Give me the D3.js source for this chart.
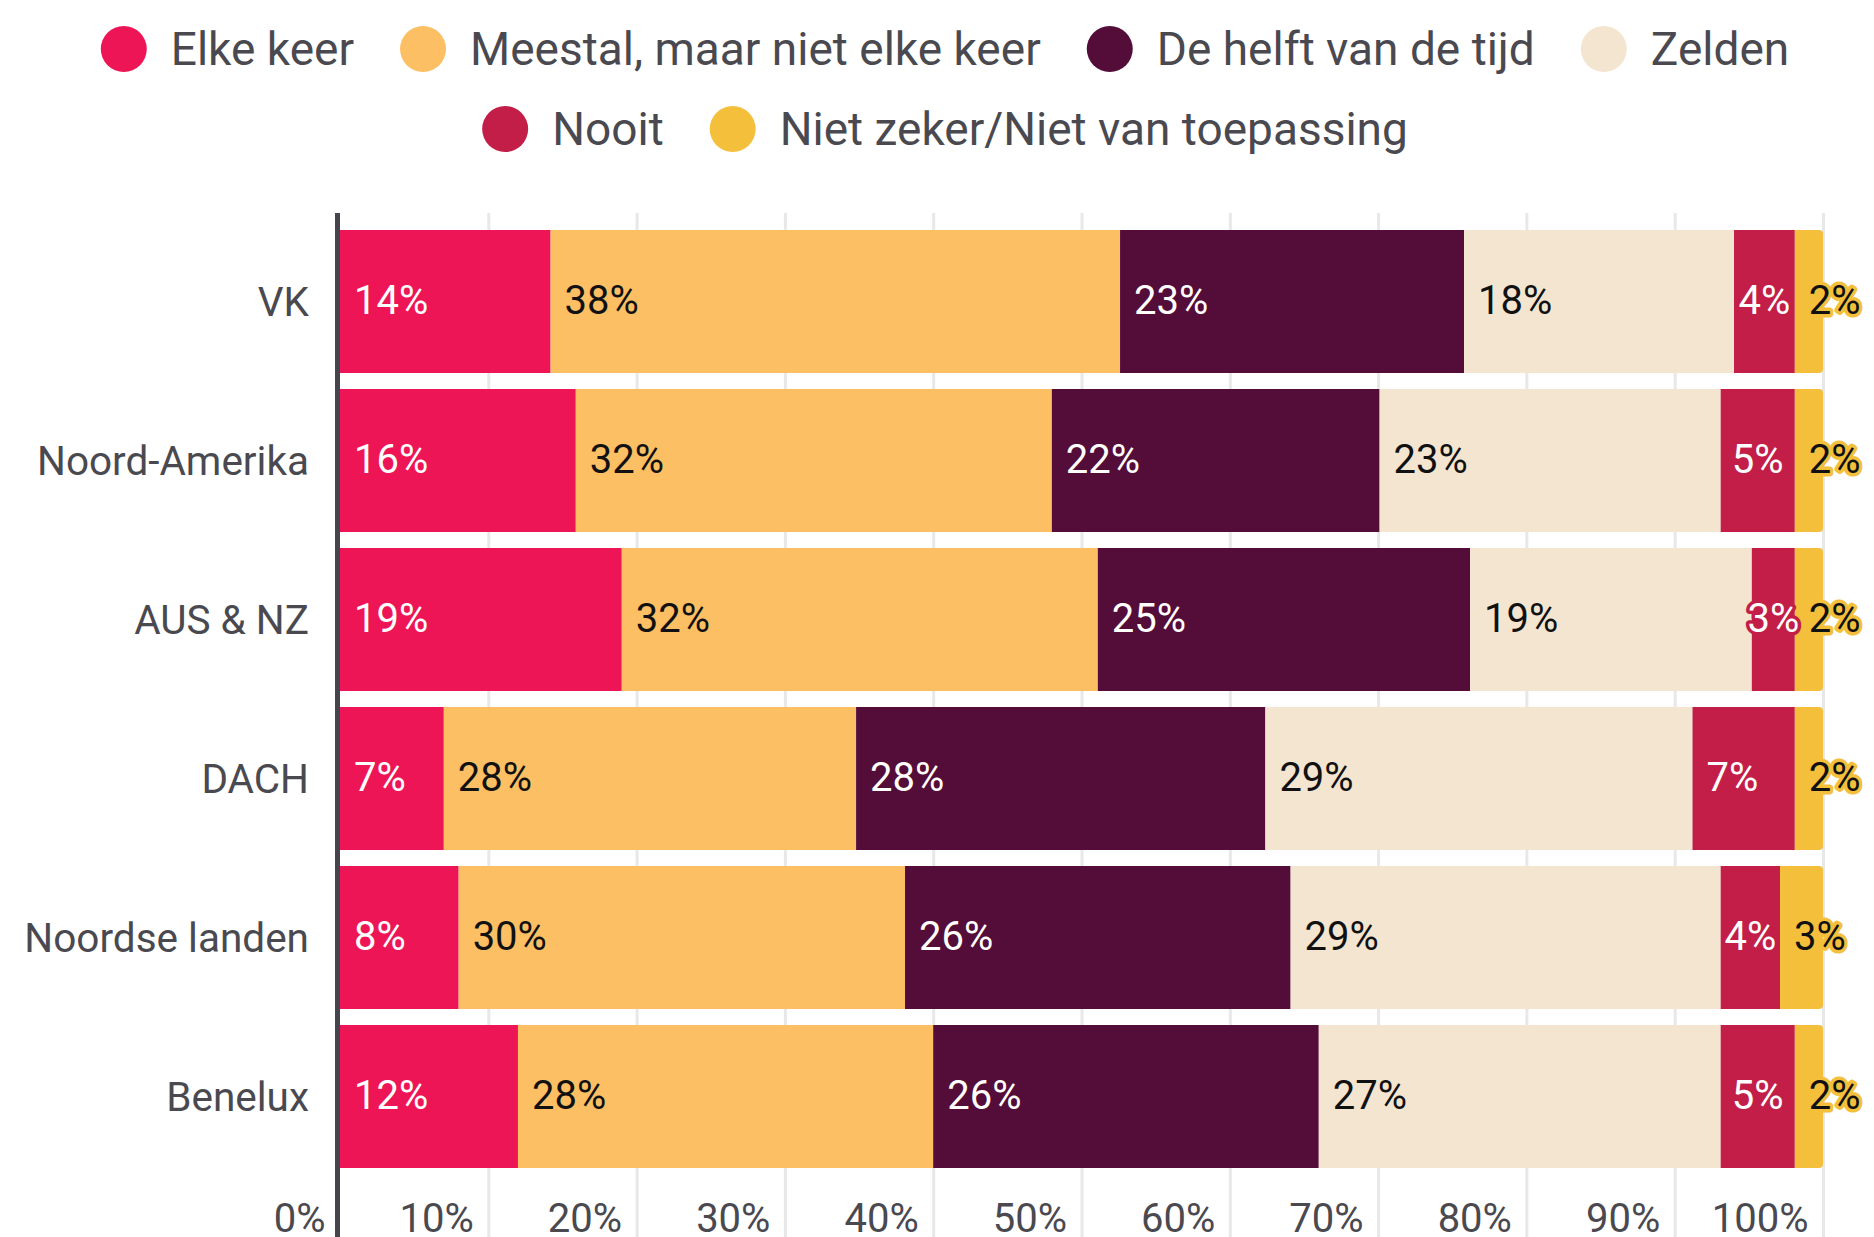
<html>
<head>
<meta charset="utf-8">
<script src="https://cdn.jsdelivr.net/npm/d3@7"></script>
<style>
    body { margin: 0; background: #fff; }
    svg text { font-family: Roboto, "Noto Sans", sans-serif; }
</style>
</head>
<body>
<svg id="chart" width="1874" height="1237"></svg>
<script>
    // categories and series (percentages)
    const categories = ["VK", "Noord-Amerika", "AUS & NZ", "DACH", "Noordse landen", "Benelux"];
    const seriesNames = ["Elke keer", "Meestal, maar niet elke keer", "De helft van de tijd", "Zelden", "Nooit", "Niet zeker/Niet van toepassing"];
    const elkeKeer = [14.2, 15.9, 19.0, 7.0, 8.0, 12.0];
    const meestal = [38.4, 32.1, 32.1, 27.8, 30.1, 28.0];
    const helft = [23.2, 22.1, 25.1, 27.6, 26.0, 26.0];
    const zelden = [18.2, 23.0, 19.0, 28.8, 29.0, 27.1];
    const nooit = [4.1, 5.0, 2.9, 6.9, 4.0, 5.0];
    const nietZeker = [1.9, 1.9, 1.9, 1.9, 2.9, 1.9];
    const tickValues = [0, 10, 20, 30, 40, 50, 60, 70, 80, 90, 100];

    const colors = ["#ee1556", "#fcbf63", "#540c38", "#f4e5d0", "#c21e48", "#f4c03c"];
    const textColors = ["#fff", "#111", "#fff", "#111", "#fff", "#111"];

    const seriesValues = [elkeKeer, meestal, helft, zelden, nooit, nietZeker];
    const table = categories.map(function (c, i) {
        const row = { cat: c };
        seriesNames.forEach(function (s, j) { row[s] = seriesValues[j][i]; });
        return row;
    });

    const svg = d3.select('#chart');

    const x = d3.scaleLinear().domain([0, 100]).range([340, 1823]);
    const y = d3.scaleBand().domain(categories).range([230, 1168]).paddingInner(16 / 159).paddingOuter(0);

    // grid + tick labels
    const xAxis = svg.append('g')
        .attr('transform', 'translate(0,213)')
        .call(d3.axisBottom(x).tickValues(tickValues).tickFormat(d => d + '%').tickSize(1024));
    xAxis.select('.domain').remove();
    xAxis.selectAll('.tick line')
        .attr('stroke', '#e8e8e8')
        .attr('stroke-width', 3)
        .attr('opacity', d => d === 0 ? 0 : 1);
    xAxis.selectAll('.tick text')
        .attr('text-anchor', 'end')
        .attr('x', -15)
        .attr('y', 1019)
        .attr('dy', 0)
        .attr('fill', '#4a4950')
        .style('font-size', '40px');

    // stacked bars
    const stacked = d3.stack().keys(seriesNames)(table);
    const r = 4;

    function segPath(x0, x1, y0, h, last) {
        if (!last) return 'M' + x0 + ',' + y0 + 'H' + x1 + 'V' + (y0 + h) + 'H' + x0 + 'Z';
        return 'M' + x0 + ',' + y0 + 'H' + (x1 - r) + 'Q' + x1 + ',' + y0 + ' ' + x1 + ',' + (y0 + r)
            + 'V' + (y0 + h - r) + 'Q' + x1 + ',' + (y0 + h) + ' ' + (x1 - r) + ',' + (y0 + h)
            + 'H' + x0 + 'Z';
    }

    const layers = svg.append('g').selectAll('g')
        .data(stacked)
        .enter().append('g')
        .attr('fill', (d, i) => colors[i]);

    layers.selectAll('path')
        .data((d, i) => d.map(p => ({ p: p, i: i })))
        .enter().append('path')
        .attr('d', d => segPath(x(d.p[0]), x(d.p[1]), y(d.p.data.cat), y.bandwidth(), d.i === seriesNames.length - 1));

    // value labels
    const labelG = svg.append('g');
    stacked.forEach(function (layer, i) {
        layer.forEach(function (p) {
            const x0 = x(p[0]), x1 = x(p[1]);
            const t = labelG.append('text')
                .attr('y', y(p.data.cat) + y.bandwidth() / 2)
                .attr('dy', '0.32em')
                .attr('fill', textColors[i])
                .attr('stroke', colors[i])
                .attr('stroke-width', 7)
                .attr('stroke-linejoin', 'round')
                .style('paint-order', 'stroke')
                .style('font-size', '40px')
                .text(Math.round(p[1] - p[0]) + '%');
            const w = t.node().getComputedTextLength();
            const pad = 14;
            if (i === seriesNames.length - 1 || w + 2 * pad <= x1 - x0) {
                t.attr('x', x0 + pad);
            } else {
                t.attr('x', (x0 + x1) / 2).attr('text-anchor', 'middle');
            }
        });
    });

    // category labels
    const yAxis = svg.append('g')
        .attr('transform', 'translate(309,0)')
        .call(d3.axisLeft(y).tickSize(0).tickPadding(0));
    yAxis.select('.domain').remove();
    yAxis.selectAll('.tick text')
        .attr('fill', '#4a4950')
        .attr('dy', '0.35em')
        .style('font-size', '40.5px');

    // zero axis line
    svg.append('line')
        .attr('x1', x(0) - 2.5).attr('x2', x(0) - 2.5)
        .attr('y1', 213).attr('y2', 1237)
        .attr('stroke', '#46454d')
        .attr('stroke-width', 5);

    // legend
    const rows = [seriesNames.slice(0, 4), seriesNames.slice(4)];
    const rowY = [49, 129];
    const legendCenter = 945;
    rows.forEach(function (names, ri) {
        const g = svg.append('g');
        let cx = 0;
        names.forEach(function (name) {
            const idx = seriesNames.indexOf(name);
            g.append('circle')
                .attr('cx', cx + 23).attr('cy', rowY[ri]).attr('r', 23)
                .attr('fill', colors[idx]);
            const t = g.append('text')
                .attr('x', cx + 70).attr('y', rowY[ri])
                .attr('dy', '0.34em')
                .attr('fill', '#4a4950')
                .style('font-size', '46px')
                .text(name);
            cx += 70 + t.node().getComputedTextLength() + 46;
        });
        const total = cx - 46;
        g.attr('transform', 'translate(' + (legendCenter - total / 2) + ',0)');
    });
</script>
</body>
</html>
